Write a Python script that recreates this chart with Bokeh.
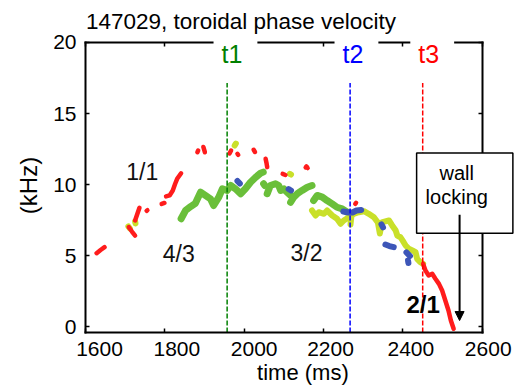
from bokeh.plotting import figure
from bokeh.models import (Range1d, LinearAxis, FixedTicker, Label, LabelSet,
                          ColumnDataSource, Arrow, NormalHead)
from bokeh.embed import file_html
from bokeh.resources import INLINE
from bokeh.core.properties import value

FONT = "Liberation Sans"

# ---------------- data ----------------
x_ticks = [1600, 1800, 2000, 2200, 2400, 2600]
x_tick_labels = ["1600", "1800", "2000", "2200", "2400", "2600"]
y_ticks = [0, 5, 10, 15, 20]

# red mode traces (1/1 and 2/1)
red_t = [
    [1628, 1638, 1648],
    [1709, 1717, 1725],
    [1725, 1731, 1736],
    [1754, 1756],
    [1792, 1799],
    [1803, 1812, 1820, 1826, 1831, 1841],
    [1882, 1884],
    [1897, 1901],
    [1963, 1967],
    [1983, 1985],
    [2024, 2027],
    [2054, 2056, 2058],
    [2097, 2104],
    [2155, 2157, 2160],
    [2280, 2282],
    [2451, 2457, 2465, 2474, 2482, 2491, 2499, 2507, 2515, 2521, 2528],
]
red_f = [
    [5.18, 5.40, 5.60],
    [7.01, 6.70, 6.42],
    [7.48, 7.97, 8.37],
    [8.16, 8.20],
    [8.64, 8.71],
    [9.17, 9.24, 9.59, 10.06, 10.41, 10.80],
    [12.28, 12.40],
    [12.65, 12.28],
    [12.19, 12.40],
    [12.17, 12.10],
    [12.45, 12.30],
    [11.82, 11.56, 11.23],
    [10.76, 10.68],
    [11.21, 11.28, 11.17],
    [8.65, 8.72],
    [4.43, 3.96, 3.61, 3.73, 3.38, 3.02, 2.55, 1.85, 1.15, 0.44, -0.14],
]

# green traces (4/3)
green_t = [
    [1841, 1852, 1865, 1877, 1890, 1902, 1915, 1923, 1936, 1945, 1957, 1966,
     1978, 1991, 2003, 2016, 2029, 2041, 2048],
    [2049, 2052],
    [2058, 2066, 2079, 2087, 2092, 2100, 2108, 2117],
    [2117, 2125, 2134, 2146, 2159, 2171],
    [2175, 2184, 2197, 2209, 2222, 2234, 2247, 2260, 2268],
]
green_f = [
    [7.60, 8.18, 8.46, 8.69, 9.47, 9.24, 9.00, 8.53, 9.12, 9.71, 9.59, 9.94,
     9.71, 9.36, 9.71, 10.17, 10.52, 10.80, 10.88],
    [10.06, 9.94],
    [9.36, 9.94, 10.06, 9.94, 9.59, 9.71, 9.47, 9.24],
    [8.76, 9.12, 9.36, 9.59, 9.82, 9.94],
    [8.88, 9.24, 9.12, 8.88, 8.65, 8.41, 8.30, 8.06, 7.99],
]

# yellow-green traces (3/2)
yellow_t = [
    [2171, 2180, 2188, 2201, 2209, 2222, 2234, 2243, 2251, 2264, 2276, 2289,
     2302, 2314, 2327, 2337, 2342, 2347, 2365, 2373, 2382, 2386, 2394, 2402,
     2407, 2415, 2424, 2432, 2436, 2444, 2451],
    [2271, 2268],
    [1708, 1712],
    [1725, 1726],
    [1976, 1979],
    [2115, 2118],
]
yellow_f = [
    [8.18, 7.83, 8.06, 7.95, 8.18, 7.83, 7.60, 7.25, 7.48, 7.71, 7.95, 8.06,
     8.13, 7.95, 7.71, 7.34, 6.56, 7.34, 7.48, 7.13, 6.77, 6.42, 6.30, 5.95,
     5.72, 5.49, 5.37, 5.25, 4.78, 4.54, 4.43],
    [7.97, 7.20],
    [7.06, 6.91],
    [7.41, 7.27],
    [12.75, 12.89],
    [10.76, 10.71],
]

# blue traces
blue_t = [
    [1983, 1989],
    [2112, 2118],
    [2250, 2263, 2273, 2283, 2295],
    [2346, 2350],
    [2356, 2366, 2377],
    [2409, 2418],
    [2413, 2414],
]
blue_f = [
    [10.26, 10.08],
    [9.69, 9.59],
    [8.11, 8.04, 8.04, 8.18, 8.22],
    [7.20, 6.99],
    [5.79, 5.68, 5.60],
    [5.23, 4.98],
    [4.66, 4.49],
]

event_names = ["t1", "t2", "t3"]
event_times = [1957, 2267, 2450]

mode_names = ["1/1", "4/3", "3/2"]
mode_t = [1743, 1835, 2157]
mode_f = [10.87, 5.13, 5.19]

# ---------------- style ----------------
RED = "#ff1c1c"
GREEN = "#6abf3a"
YELLOW = "#c9e02a"
BLUE = "#3d56b8"
event_colors = ["#008000", "#0000ff", "#ff0000"]
event_label_t = [1978, 2283, 2474]
event_label_f = 18.94
xtick_nudge = [14, 12, 10, 7, 8, 6]

X0, X1 = 1600, 2600
Y0, Y1 = -0.4, 20

# frame covers the whole canvas; the box axes are drawn at fixed locations
p = figure(width=518, height=385, x_range=Range1d(1385.7, 2691.5),
           y_range=Range1d(-4.129, 22.953), output_backend="svg",
           toolbar_location=None, min_border=0)
p.outline_line_color = None
p.grid.visible = False
p.background_fill_color = "white"
p.border_fill_color = "white"
p.title.text = ""


def style_axis(ax, ticks, show_labels, loc, bounds):
    ax.ticker = FixedTicker(ticks=ticks)
    ax.fixed_location = loc
    ax.bounds = bounds
    ax.major_tick_in = 4
    ax.major_tick_out = 0
    ax.minor_tick_line_color = None
    ax.axis_line_width = 2
    ax.axis_line_color = "black"
    ax.axis_line_cap = "square"
    ax.major_tick_line_width = 1.5
    ax.major_tick_line_color = "black"
    ax.major_label_text_font = FONT
    ax.major_label_text_font_size = "21px"
    ax.major_label_text_color = "black" if show_labels else None


style_axis(p.xaxis[0], x_ticks, False, Y0, (X0, X1))
style_axis(p.yaxis[0], y_ticks, True, X0, (Y0, Y1))
p.yaxis[0].major_label_standoff = 9

top = LinearAxis()
style_axis(top, x_ticks, False, Y1, (X0, X1))
p.add_layout(top, "above")
right = LinearAxis()
style_axis(right, y_ticks, False, X1, (Y0, Y1))
p.add_layout(right, "right")

# traces
p.multi_line(xs=green_t, ys=green_f, line_color=GREEN, line_width=7,
             line_cap="round", line_join="round")
p.multi_line(xs=yellow_t, ys=yellow_f, line_color=YELLOW, line_width=6,
             line_cap="round", line_join="round")
p.multi_line(xs=blue_t, ys=blue_f, line_color=BLUE, line_width=6,
             line_cap="round", line_join="round")
p.multi_line(xs=red_t, ys=red_f, line_color=RED, line_width=4.5,
             line_cap="round", line_join="round")

# event lines
p.segment(x0=event_times, y0=Y0, x1=event_times, y1=Y1,
          line_color=event_colors, line_dash="5 2", line_width=1.5)

for name, t, c in zip(event_names, event_label_t, event_colors):
    p.add_layout(Label(x=t, y=event_label_f, text=name, text_color=c,
                       text_font=FONT, text_font_size="25px",
                       text_align="center", text_baseline="middle",
                       background_fill_color="white",
                       padding=(8, 15, 8, 15)))

# x tick labels
xsrc = ColumnDataSource(dict(x=x_ticks, text=x_tick_labels, dx=xtick_nudge))
p.add_layout(LabelSet(x="x", y=-1.555, text="text", x_offset="dx", source=xsrc,
                      text_font=value(FONT), text_font_size=value("21px"),
                      text_align="center", text_baseline="middle",
                      text_color="black"))

# mode labels
msrc = ColumnDataSource(dict(x=mode_t, y=mode_f, text=mode_names))
p.add_layout(LabelSet(x="x", y="y", text="text", source=msrc,
                      text_font=value(FONT), text_font_size=value("23px"),
                      text_align="center", text_baseline="middle",
                      text_color="#111111"))
p.add_layout(Label(x=2451, y=1.57, text="2/1", text_font=FONT,
                   text_font_size="24px", text_font_style="bold",
                   text_color="black",
                   text_align="center", text_baseline="middle"))

# wall locking box + arrow
p.add_layout(Label(x=2556, y=9.40, text="wall\nlocking", text_font=FONT,
                   text_font_size="20px", text_align="center",
                   text_color="black",
                   text_baseline="middle", text_line_height=1.1,
                   background_fill_color="white", border_line_color="black",
                   border_line_width=1.5, padding=(9, 25, 9, 25)))
p.add_layout(Arrow(end=NormalHead(size=9, fill_color="black",
                                  line_color="black"),
                   x_start=2543, y_start=7.88, x_end=2543, y_end=0.44,
                   line_width=2, line_color="black"))

# titles
p.add_layout(Label(x=1601, y=21.46, text="147029, toroidal phase velocity",
                   text_font=FONT, text_font_size="22.5px", text_align="left",
                   text_color="black", text_baseline="middle"))
p.add_layout(Label(x=2148, y=-3.215, text="time (ms)", text_font=FONT,
                   text_font_size="22px", text_align="center",
                   text_color="black", text_baseline="middle"))
p.add_layout(Label(x=1456, y=9.94, text="(kHz)", text_font=FONT,
                   text_font_size="24px", text_align="center",
                   text_color="black", text_baseline="middle",
                   angle=90, angle_units="deg"))

open("out.html", "w").write(file_html(p, INLINE))
